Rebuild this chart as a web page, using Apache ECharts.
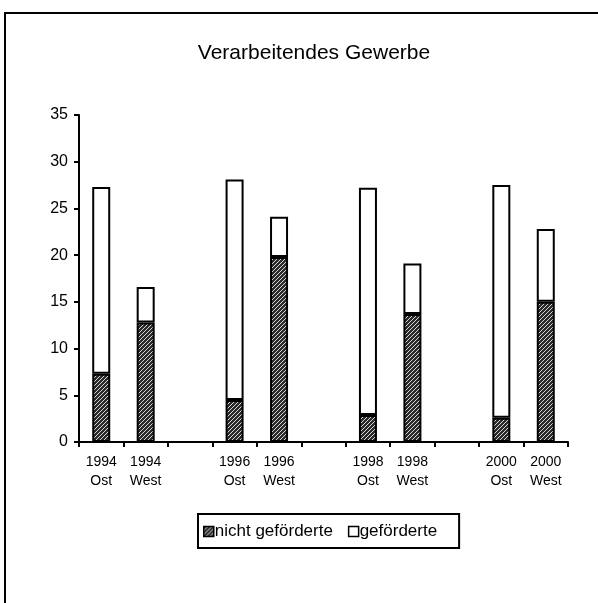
<!DOCTYPE html>
<html>
<head>
<meta charset="utf-8">
<script src="https://cdn.jsdelivr.net/npm/echarts@6/dist/echarts.min.js"></script>
<style>
  html, body { margin: 0; padding: 0; background: #fff; }
  #chart { width: 598px; height: 603px; }
</style>
</head>
<body>
<div id="chart"></div>
<script>
// categories, empty strings are the gaps between the years
const categories = ['1994\nOst', '1994\nWest', '', '1996\nOst', '1996\nWest', '', '1998\nOst', '1998\nWest', '', '2000\nOst', '2000\nWest']
const nichtGefoerderte = [7.3, 12.8, null, 4.5, 19.8, null, 2.9, 13.7, null, 2.6, 15.0]
const gefoerderte = [20.0, 3.8, null, 23.6, 4.3, null, 24.3, 5.4, null, 24.9, 7.8]
const yTicks = [0, 5, 10, 15, 20, 25, 30, 35]

// hatch pattern for the lower part of the bars
function makeHatch() {
  const c = document.createElement('canvas')
  c.width = 4
  c.height = 4
  const ctx = c.getContext('2d')
  ctx.fillStyle = '#2a2a2a'
  ctx.fillRect(0, 0, 4, 4)
  ctx.strokeStyle = '#d8d8d8'
  ctx.lineWidth = 1
  ctx.beginPath()
  ctx.moveTo(0, 4); ctx.lineTo(4, 0)
  ctx.moveTo(-1, 1); ctx.lineTo(1, -1)
  ctx.moveTo(3, 5); ctx.lineTo(5, 3)
  ctx.stroke()
  return c
}
const hatch = { image: makeHatch(), repeat: 'repeat' }

const chart = echarts.init(document.getElementById('chart'))

const font = 'Liberation Sans, Arial, sans-serif'

chart.setOption({
  animation: false,
  backgroundColor: '#fff',
  textStyle: { fontFamily: font },
  title: {
    text: 'Verarbeitendes Gewerbe',
    left: 309,
    top: 38,
    textAlign: 'center',
    textStyle: { fontFamily: font, fontSize: 21, fontWeight: 'normal', color: '#000' }
  },
  graphic: [{
    type: 'rect',
    shape: { x: 5, y: 13, width: 700, height: 700 },
    style: { fill: 'none', stroke: '#000', lineWidth: 2 },
    silent: true
  }],
  legend: {
    left: 198,
    top: 514,
    borderColor: '#000',
    borderWidth: 2,
    padding: [9, 22, 8, 5],
    itemGap: 15,
    itemWidth: 10,
    itemHeight: 10,
    icon: 'rect',
    textStyle: { fontFamily: font, fontSize: 17, color: '#000', padding: [0, 0, 0, -4] },
    data: [
      { name: 'nicht geförderte', itemStyle: { color: hatch, borderColor: '#000', borderWidth: 1.5 } },
      { name: 'geförderte', itemStyle: { color: '#fff', borderColor: '#000', borderWidth: 1.5 } }
    ]
  },
  grid: { left: 79, right: 30, top: 115, bottom: 161 },
  xAxis: {
    type: 'category',
    data: categories,
    axisLine: { lineStyle: { color: '#000', width: 2 } },
    axisTick: { show: true, length: 5, lineStyle: { color: '#000', width: 2 } },
    axisLabel: { interval: 0, color: '#000', fontSize: 14, lineHeight: 19, margin: 11, fontFamily: font }
  },
  yAxis: {
    type: 'value',
    min: 0,
    max: 35,
    interval: 5,
    axisLine: { show: true, lineStyle: { color: '#000', width: 2 } },
    axisTick: { show: true, length: 5, lineStyle: { color: '#000', width: 2 } },
    axisLabel: { color: '#000', fontSize: 16, margin: 11, fontFamily: font,
      formatter: v => yTicks.includes(v) ? String(v) : '' },
    splitLine: { show: false }
  },
  series: [
    {
      name: 'nicht geförderte',
      type: 'bar',
      stack: 'total',
      barWidth: 18,
      data: nichtGefoerderte,
      itemStyle: { color: hatch, borderColor: '#000', borderWidth: 2 }
    },
    {
      name: 'geförderte',
      type: 'bar',
      stack: 'total',
      barWidth: 18,
      data: gefoerderte,
      itemStyle: { color: '#fff', borderColor: '#000', borderWidth: 2 }
    }
  ]
})
</script>
</body>
</html>
